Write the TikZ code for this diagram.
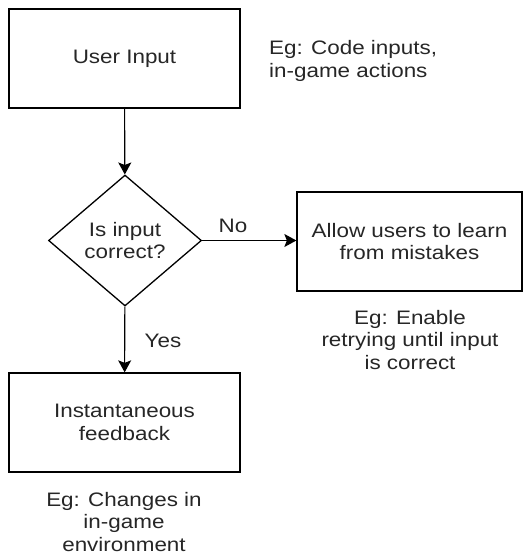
\documentclass[tikz,border=0pt]{standalone}
\usepackage{fontspec}
\setmainfont{Liberation Sans}[FakeStretch=1.15]
\usetikzlibrary{shapes.geometric,arrows.meta}
\begin{document}
\begin{tikzpicture}[x=1pt,y=-1pt,
  every node/.style={font=\fontsize{19.5}{22.5}\selectfont, text=black!85},
  box/.style={draw=black, line width=1.3pt, rectangle, inner sep=0pt, align=center},
  decision/.style={draw=black, line width=1.3pt, diamond, inner sep=0pt, align=center, minimum width=153pt, minimum height=131pt},
  note/.style={align=center, inner sep=0pt},
  flow/.style={draw=black, line width=1.1pt, -{Stealth[length=12pt,width=13pt,inset=2.5pt]}}
]
\useasboundingbox (0,0) rectangle (523,556);
\node[box, minimum width=231pt, minimum height=99pt] (ui) at (124.5,58.5) {User Input};
\node[decision] (dia) at (125,240.5) {Is input\\correct?};
\node[box, minimum width=225pt, minimum height=99pt] (rb) at (409.5,241.5) {Allow users to learn\\from mistakes};
\node[box, minimum width=231pt, minimum height=99pt] (fb) at (124.5,422.5) {Instantaneous\\feedback};
\node[note, align=left, anchor=west] (c1) at (269,61) {Eg: Code inputs,\\in-game actions};
\node[note] (c2) at (410,340) {Eg: Enable\\retrying until input\\is correct};
\node[note] (c3) at (124,522) {Eg: Changes in\\in-game\\environment};
\node[note] (no) at (233,226) {No};
\node[note] (yes) at (163,341) {Yes};
\draw[flow] (ui) -- (dia);
\draw[flow] (dia.east) -- (dia.east -| rb.west);
\draw[flow] (dia) -- (fb);
\end{tikzpicture}
\end{document}
